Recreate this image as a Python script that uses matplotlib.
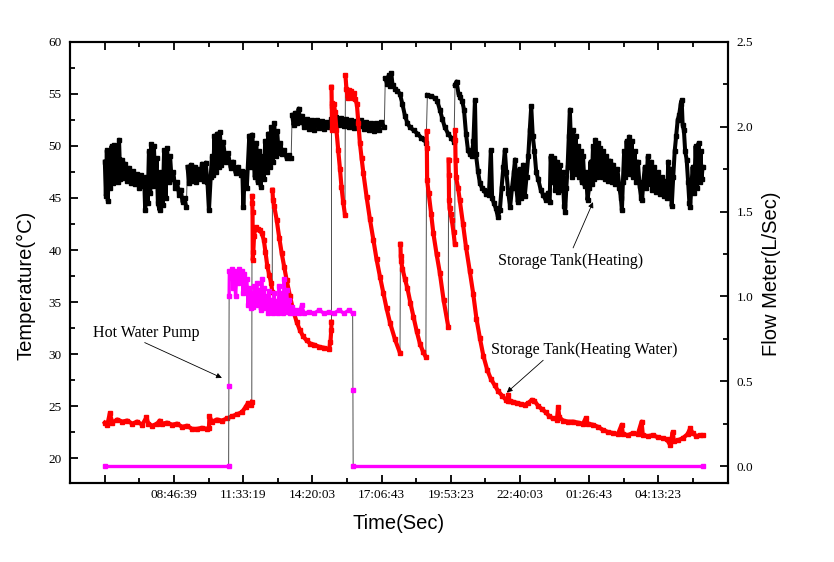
import numpy as np
import matplotlib.pyplot as plt
from matplotlib.ticker import MultipleLocator, FixedLocator, FormatStrFormatter

# time axis in hours after 05:59:59 (one major tick = 10000 s)
tick_step = 10000 / 3600
time_labels = ['', '08:46:39', '11:33:19', '14:20:03', '17:06:43',
               '19:53:23', '22:40:03', '01:26:43', '04:13:23']

# Storage Tank (Heating) temperature, degC -- segments split at jumps
tank_heating = [
    [(0.00, 48.5), (0.04, 45.2), (0.08, 49.6), (0.12, 44.7), (0.17, 49.3), (0.22, 46.0),
     (0.27, 50.0), (0.32, 46.4), (0.37, 50.1), (0.42, 46.7), (0.47, 49.9), (0.52, 46.5),
     (0.57, 50.6), (0.62, 46.8), (0.67, 48.7), (0.75, 46.9), (0.82, 48.3), (0.90, 46.6),
     (0.98, 47.9), (1.06, 46.4), (1.14, 47.6), (1.22, 46.3), (1.30, 47.3), (1.38, 46.0),
     (1.46, 47.2), (1.52, 46.2), (1.58, 46.8), (1.62, 43.8), (1.67, 47.0), (1.72, 44.5),
     (1.77, 49.5), (1.82, 45.5), (1.87, 50.2), (1.92, 46.2), (1.97, 50.0), (2.02, 46.6),
     (2.08, 48.8), (2.13, 44.5), (2.20, 43.8), (2.26, 47.5), (2.32, 44.3), (2.38, 49.6),
     (2.44, 45.0), (2.50, 49.8), (2.56, 46.5), (2.62, 49.0), (2.68, 46.8), (2.75, 47.5),
     (2.82, 46.0), (2.90, 46.5), (2.98, 45.3), (3.05, 45.8), (3.12, 44.6), (3.20, 45.0),
     (3.27, 44.1)],
    [(3.32, 48.0), (3.38, 46.4), (3.45, 48.2), (3.52, 46.6), (3.60, 48.0), (3.68, 46.5),
     (3.75, 47.8), (3.82, 46.8), (3.90, 48.3), (3.97, 46.6), (4.05, 48.4), (4.12, 46.5),
     (4.18, 43.8), (4.25, 47.0), (4.30, 49.0), (4.35, 47.2), (4.40, 51.0), (4.45, 47.5),
     (4.52, 51.2), (4.57, 48.0), (4.62, 51.3), (4.68, 48.2), (4.75, 50.4), (4.85, 48.5),
     (4.95, 49.3), (5.05, 47.9), (5.15, 48.5), (5.25, 47.4), (5.35, 48.0), (5.45, 47.2),
     (5.52, 47.6), (5.56, 44.1), (5.62, 47.5), (5.70, 46.0), (5.80, 51.0), (5.85, 48.0),
     (5.92, 51.1), (5.98, 48.5), (6.02, 47.0), (6.08, 50.3), (6.14, 46.5), (6.20, 49.5),
     (6.26, 46.1), (6.32, 49.0), (6.38, 46.8), (6.44, 50.5), (6.50, 47.5), (6.56, 51.2),
     (6.62, 48.0), (6.68, 51.8), (6.74, 48.5), (6.80, 52.2), (6.86, 49.0), (6.92, 51.4),
     (6.98, 49.3), (7.05, 50.3), (7.12, 49.2), (7.20, 49.6), (7.30, 48.8), (7.40, 49.1),
     (7.48, 48.8)],
    [(7.52, 53.0), (7.58, 52.0), (7.65, 53.2), (7.72, 52.2), (7.78, 53.6), (7.85, 52.3),
     (7.92, 52.9), (8.00, 51.8), (8.10, 52.6), (8.20, 51.6), (8.30, 52.5), (8.40, 51.5),
     (8.50, 52.5), (8.60, 51.7), (8.70, 52.4), (8.80, 51.6), (8.90, 52.3), (9.00, 51.8),
     (9.10, 52.6), (9.20, 51.9), (9.30, 52.8), (9.40, 52.0), (9.50, 52.7), (9.60, 51.9),
     (9.70, 52.6), (9.80, 51.8), (9.90, 52.5), (10.00, 51.7), (10.10, 52.4), (10.20, 51.9),
     (10.30, 52.5), (10.40, 51.6), (10.50, 52.3), (10.60, 51.5), (10.70, 52.2), (10.80, 51.4),
     (10.90, 52.2), (11.00, 51.5), (11.10, 52.3), (11.22, 51.8)],
    [(11.26, 56.5), (11.33, 56.0), (11.40, 56.8), (11.45, 55.8), (11.50, 57.0), (11.55, 55.9),
     (11.65, 55.5), (11.75, 55.3), (11.85, 55.0), (11.95, 54.0), (12.05, 52.9), (12.15, 52.2),
     (12.25, 51.8), (12.40, 51.5), (12.55, 51.2), (12.70, 50.8), (12.80, 50.7), (12.90, 50.3)],
    [(12.95, 54.9), (13.10, 54.8), (13.25, 54.6), (13.35, 54.3), (13.45, 53.5), (13.55, 52.6),
     (13.65, 51.8), (13.78, 51.2), (13.90, 50.8), (14.02, 50.4)],
    [(14.06, 55.9), (14.12, 56.2), (14.20, 55.0), (14.26, 54.7), (14.35, 54.3), (14.42, 53.5),
     (14.50, 51.2), (14.58, 49.6), (14.66, 49.2), (14.73, 49.0), (14.80, 50.5), (14.86, 54.4),
     (14.90, 49.2), (14.98, 47.6), (15.06, 46.4), (15.14, 46.0), (15.22, 45.8), (15.30, 45.4),
     (15.36, 45.6), (15.42, 45.3), (15.50, 49.6), (15.55, 45.0), (15.62, 44.5), (15.70, 44.0),
     (15.78, 43.2), (15.86, 43.8), (15.93, 46.0), (16.00, 48.0), (16.06, 49.6), (16.12, 47.5),
     (16.20, 45.5), (16.27, 44.1), (16.35, 46.0), (16.42, 47.5), (16.47, 48.7), (16.52, 46.0),
     (16.58, 44.6), (16.65, 47.8), (16.72, 45.0), (16.80, 48.2), (16.86, 45.2), (16.93, 47.0),
     (17.00, 49.0), (17.06, 51.5), (17.12, 53.8), (17.18, 51.0), (17.25, 49.5), (17.32, 47.5),
     (17.40, 46.8), (17.50, 45.8), (17.60, 45.3), (17.70, 44.8), (17.78, 45.5), (17.86, 44.6),
     (17.90, 49.0), (17.96, 46.5), (18.02, 48.8), (18.08, 45.8), (18.14, 48.5), (18.20, 45.6),
     (18.26, 48.2), (18.32, 45.8), (18.38, 47.5), (18.44, 44.2), (18.48, 43.7), (18.53, 46.0),
     (18.58, 48.0), (18.63, 51.0), (18.67, 53.5), (18.72, 50.0), (18.76, 47.0), (18.80, 51.5),
     (18.85, 47.5), (18.90, 51.0), (18.95, 47.3), (19.00, 50.0), (19.05, 47.0), (19.10, 49.5),
     (19.15, 46.5), (19.20, 49.0), (19.26, 46.2), (19.32, 47.5), (19.38, 44.8), (19.44, 46.0),
     (19.50, 48.5), (19.55, 46.3), (19.60, 50.0), (19.65, 46.8), (19.70, 50.6), (19.75, 47.0),
     (19.80, 50.3), (19.85, 47.2), (19.90, 49.8), (19.95, 47.0), (20.00, 49.5), (20.07, 46.8),
     (20.14, 49.0), (20.21, 46.6), (20.28, 48.6), (20.35, 46.5), (20.42, 48.2), (20.50, 46.3),
     (20.58, 47.8), (20.66, 46.0), (20.72, 45.0), (20.76, 43.8), (20.80, 46.5), (20.85, 49.5),
     (20.90, 47.0), (20.95, 50.5), (21.00, 47.5), (21.05, 50.9), (21.10, 47.3), (21.15, 50.5),
     (21.20, 47.0), (21.27, 49.5), (21.33, 46.5), (21.40, 48.5), (21.47, 46.2), (21.53, 45.0),
     (21.57, 44.8), (21.62, 46.5), (21.68, 48.0), (21.74, 46.0), (21.80, 49.0), (21.86, 46.3),
     (21.92, 48.5), (21.98, 45.8), (22.05, 48.0), (22.12, 45.6), (22.20, 47.5), (22.28, 45.4),
     (22.36, 47.0), (22.44, 45.2), (22.52, 46.6), (22.58, 45.0), (22.62, 48.5), (22.67, 45.5),
     (22.72, 47.8), (22.76, 44.2), (22.82, 47.0), (22.88, 49.5), (22.94, 51.0), (23.00, 52.5),
     (23.06, 53.0), (23.12, 54.0), (23.16, 54.4), (23.20, 52.0), (23.25, 51.5), (23.30, 49.5),
     (23.36, 48.7), (23.42, 46.5), (23.47, 44.5), (23.50, 44.1), (23.55, 46.0), (23.60, 48.0),
     (23.66, 45.5), (23.72, 50.0), (23.78, 46.0), (23.84, 50.3), (23.88, 46.5), (23.92, 49.5),
     (23.96, 46.8), (24.00, 48.0)],
]

# Storage Tank (Heating Water) temperature, degC
tank_water = [
    [(0.0, 23.4), (0.1, 23.2), (0.2, 24.3), (0.3, 23.4), (0.5, 23.7), (0.7, 23.5), (0.9, 23.6),
     (1.1, 23.3), (1.3, 23.5), (1.5, 23.2), (1.67, 23.9), (1.75, 23.3), (1.9, 23.1), (2.1, 23.3),
     (2.2, 23.6), (2.3, 23.3), (2.5, 23.4), (2.7, 23.2), (2.9, 23.3), (3.1, 23.0), (3.3, 23.1),
     (3.5, 22.8), (3.7, 22.8), (3.9, 22.9), (4.1, 22.8), (4.18, 22.9), (4.2, 24.0), (4.3, 23.5),
     (4.5, 23.7), (4.7, 23.6), (4.9, 23.8), (5.1, 24.0), (5.3, 24.2), (5.5, 24.4), (5.65, 24.9),
     (5.75, 25.3), (5.85, 25.1), (5.9, 25.4)],
    [(5.91, 45.2), (5.92, 44.5), (5.93, 43.7), (5.94, 39.0), (5.96, 39.8), (5.99, 41.3),
     (6.03, 42.0), (6.08, 42.2), (6.15, 42.0), (6.22, 41.9), (6.30, 41.6), (6.38, 41.0),
     (6.45, 39.8), (6.52, 38.5), (6.60, 37.6), (6.68, 36.8), (6.72, 36.0)],
    [(6.73, 45.8), (6.75, 44.8), (6.80, 44.2), (6.90, 42.9), (7.00, 41.2), (7.10, 39.7),
     (7.20, 38.4), (7.30, 37.1), (7.43, 35.6), (7.56, 34.2), (7.70, 33.1), (7.83, 32.3),
     (7.96, 31.7), (8.10, 31.3), (8.25, 31.0), (8.40, 30.9), (8.60, 30.7), (8.80, 30.6),
     (9.00, 30.45), (9.06, 31.2), (9.09, 32.3), (9.10, 33.1)],
    [(9.10, 55.7), (9.11, 54.1), (9.12, 51.5), (9.14, 53.8), (9.17, 52.8), (9.20, 54.0),
     (9.24, 53.3), (9.30, 51.5), (9.37, 49.6), (9.44, 47.8), (9.50, 46.1), (9.57, 44.6),
     (9.64, 43.4)],
    [(9.66, 56.8), (9.70, 55.5), (9.75, 54.6), (9.80, 55.4), (9.85, 54.8), (9.90, 55.3),
     (9.95, 54.6), (10.00, 55.1), (10.06, 54.5), (10.12, 54.0), (10.18, 52.2), (10.24, 50.3),
     (10.31, 48.8), (10.38, 47.4), (10.51, 45.1), (10.64, 43.0), (10.78, 41.0), (10.91, 39.1),
     (11.05, 37.4), (11.18, 35.9), (11.31, 34.4), (11.45, 33.0), (11.65, 31.4), (11.85, 30.1)],
    [(11.87, 40.6), (11.88, 39.4), (11.90, 38.9), (11.95, 38.2), (12.05, 37.2), (12.15, 36.3),
     (12.27, 34.9), (12.39, 33.6), (12.52, 32.2), (12.65, 31.0), (12.78, 30.2), (12.89, 29.7)],
    [(12.92, 51.4), (12.93, 49.8), (12.94, 46.7), (13.00, 45.5), (13.10, 43.5), (13.19, 41.6),
     (13.32, 39.6), (13.45, 37.8), (13.60, 35.2), (13.79, 32.6)],
    [(13.80, 48.7), (13.81, 47.2), (13.82, 44.8), (13.84, 44.0), (13.88, 43.5), (13.93, 42.9),
     (14.00, 41.7), (14.05, 40.6)],
    [(14.06, 51.5), (14.07, 50.6), (14.08, 48.7), (14.10, 47.0), (14.18, 46.0), (14.25, 44.8),
     (14.38, 42.5), (14.50, 40.3), (14.65, 38.0), (14.79, 35.8), (14.92, 33.4), (15.06, 31.5),
     (15.20, 29.8), (15.35, 28.5), (15.50, 27.6), (15.65, 27.0), (15.80, 26.4), (15.95, 26.0),
     (16.10, 25.6), (16.17, 25.5), (16.20, 26.1), (16.25, 25.5), (16.40, 25.4), (16.55, 25.3),
     (16.70, 25.2), (16.85, 25.1), (17.00, 25.3), (17.15, 25.6), (17.25, 25.5), (17.40, 25.0),
     (17.55, 24.7), (17.70, 24.4), (17.85, 24.0), (18.00, 23.8), (18.15, 23.7), (18.20, 24.9),
     (18.25, 23.9), (18.40, 23.6), (18.60, 23.5), (18.80, 23.5), (19.00, 23.4), (19.20, 23.3),
     (19.30, 23.8), (19.40, 23.3), (19.60, 23.2), (19.80, 23.0), (20.00, 22.7), (20.20, 22.5),
     (20.40, 22.4), (20.60, 22.3), (20.75, 23.2), (20.80, 22.3), (21.00, 22.2), (21.20, 22.4),
     (21.40, 22.3), (21.55, 23.5), (21.60, 22.2), (21.80, 22.1), (22.00, 22.2), (22.20, 22.0),
     (22.40, 21.9), (22.56, 21.8), (22.70, 21.25), (22.80, 22.5), (22.85, 21.6), (23.00, 21.7),
     (23.20, 21.9), (23.40, 22.3), (23.50, 22.85), (23.60, 22.4), (23.75, 22.1), (23.90, 22.2),
     (24.00, 22.2)],
]

# Hot Water Pump flow, L/Sec (right axis)
pump_flow = [
    [(0.0, 0.0), (4.97, 0.0)],
    [(4.98, 0.47)],
    [(4.99, 1.00), (5.00, 1.15), (5.05, 1.12), (5.10, 1.16), (5.15, 1.05), (5.20, 1.15),
     (5.25, 1.00), (5.30, 1.14), (5.35, 1.08), (5.40, 1.16), (5.45, 1.10), (5.50, 1.15),
     (5.55, 1.02), (5.60, 1.13), (5.65, 1.05), (5.70, 1.10), (5.75, 0.95), (5.80, 1.05),
     (5.85, 0.93), (5.90, 1.02), (5.95, 0.94), (6.00, 1.06), (6.05, 0.96), (6.10, 1.08),
     (6.15, 0.95), (6.20, 1.04), (6.25, 0.92), (6.30, 1.10), (6.35, 0.94), (6.40, 1.05),
     (6.45, 0.93), (6.50, 1.00), (6.55, 0.90), (6.60, 1.03), (6.65, 0.91), (6.70, 0.98),
     (6.75, 0.90), (6.80, 1.02), (6.85, 0.91), (6.90, 0.97), (6.95, 0.90), (7.00, 1.06),
     (7.05, 0.92), (7.10, 1.02), (7.15, 0.90), (7.20, 1.10), (7.25, 0.93), (7.30, 1.04),
     (7.35, 0.91), (7.40, 0.98), (7.45, 0.90), (7.50, 0.94), (7.60, 0.90), (7.70, 0.92),
     (7.80, 0.90), (7.90, 0.95), (8.00, 0.90), (8.20, 0.91), (8.40, 0.90), (8.60, 0.92),
     (8.80, 0.90), (9.00, 0.91), (9.20, 0.90), (9.40, 0.92), (9.60, 0.90), (9.80, 0.92),
     (9.95, 0.90)],
    [(9.96, 0.45)],
    [(9.97, 0.0), (24.0, 0.0)],
]

plt.rcParams['font.family'] = 'Liberation Serif'

fig = plt.figure(figsize=(8.34, 5.62), dpi=100)
ax = fig.add_axes([0.0839, 0.1406, 0.789, 0.7847])
ax2 = ax.twinx()


def draw(axis, segs, color, lw, ms):
    pts = np.array([p for s in segs for p in s])
    axis.plot(pts[:, 0], pts[:, 1], color='0.3', lw=0.7, zorder=1)
    for s in segs:
        s = np.array(s)
        axis.plot(s[:, 0], s[:, 1], color=color, lw=lw, marker='s', ms=ms,
                  mec=color, mfc=color, zorder=2)


draw(ax, tank_heating, 'black', 2.9, 3.5)
draw(ax, tank_water, '#ff0000', 3.0, 3)
draw(ax2, pump_flow, '#ff00ff', 2.4, 3)

ax.set_xlim(-1.4, 25.02)
ax.set_ylim(17.6, 60)
ax2.set_ylim(-0.1, 2.5)

ax.xaxis.set_major_locator(FixedLocator([k * tick_step for k in range(len(time_labels))]))
ax.set_xticklabels(time_labels)
ax.xaxis.set_minor_locator(FixedLocator([(k + 0.5) * tick_step for k in range(len(time_labels))]))
ax.yaxis.set_major_locator(MultipleLocator(5))
ax.yaxis.set_minor_locator(MultipleLocator(2.5))
ax2.yaxis.set_major_locator(MultipleLocator(0.5))
ax2.yaxis.set_minor_locator(MultipleLocator(0.25))
ax2.yaxis.set_major_formatter(FormatStrFormatter('%.1f'))

ax.tick_params(which='both', direction='in', top=True, right=False, labelsize=9.5, width=1.3)
ax.tick_params(which='major', length=6)
ax.tick_params(which='minor', length=3.5)
ax.tick_params(axis='y', pad=6)
ax.tick_params(axis='x', pad=4)
ax2.tick_params(which='both', direction='in', labelsize=9.5, width=1.3, pad=6)
ax2.tick_params(which='major', length=6)
ax2.tick_params(which='minor', length=3.5)
for a in (ax, ax2):
    for sp in a.spines.values():
        sp.set_linewidth(1.5)

lab = dict(family='Liberation Sans', fontsize=14.5)
ax.set_xlabel('Time(Sec)', **lab)
ax.xaxis.set_label_coords(0.5, -0.07)
ax.set_ylabel('Temperature(°C)', **lab)
ax.yaxis.set_label_coords(-0.052, 0.447)
ax2.set_ylabel('Flow Meter(L/Sec)', **lab)
ax2.yaxis.set_label_coords(1.052, 0.474)

arrow = dict(arrowstyle='-|>', color='black', lw=0.6, mutation_scale=8, shrinkA=0, shrinkB=0)
ax.annotate('', xy=(4.7, 27.7), xytext=(1.6, 31.1), arrowprops=arrow)
ax.text(-0.48, 32.0, 'Hot Water Pump', fontsize=11.5, va='center')
ax.annotate('', xy=(19.6, 44.6), xytext=(18.8, 40.2), arrowprops=arrow)
ax.text(15.8, 38.9, 'Storage Tank(Heating)', fontsize=11.5, va='center')
ax.annotate('', xy=(16.14, 26.3), xytext=(17.6, 29.4), arrowprops=arrow)
ax.text(15.5, 30.4, 'Storage Tank(Heating Water)', fontsize=11.5, va='center')

fig.savefig('out.png', dpi=100)
